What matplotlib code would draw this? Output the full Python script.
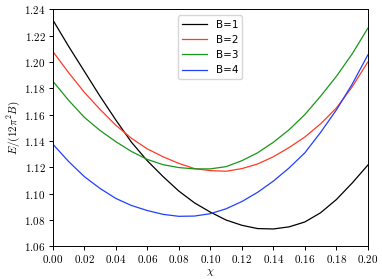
import matplotlib
matplotlib.use("Agg")
import matplotlib.pyplot as plt
from matplotlib.ticker import FuncFormatter, MultipleLocator
import numpy as np

plt.rcParams['mathtext.fontset'] = 'cm'

chi = np.round(np.arange(0, 0.2001, 0.01), 2)

# energies, one per B
e_b1 = [1.232, 1.212, 1.193, 1.174, 1.156, 1.139, 1.125, 1.113, 1.102, 1.093, 1.086,
        1.080, 1.076, 1.0735, 1.0732, 1.0748, 1.0785, 1.0855, 1.0955, 1.108, 1.1217]
e_b2 = [1.208, 1.192, 1.177, 1.164, 1.152, 1.142, 1.134, 1.128, 1.123, 1.119, 1.1175,
        1.117, 1.119, 1.1225, 1.128, 1.135, 1.143, 1.153, 1.165, 1.181, 1.200]
e_b3 = [1.1855, 1.171, 1.158, 1.148, 1.1395, 1.132, 1.126, 1.122, 1.1198, 1.1188, 1.1188,
        1.1205, 1.125, 1.131, 1.139, 1.1485, 1.160, 1.174, 1.189, 1.206, 1.2256]
e_b4 = [1.1377, 1.1245, 1.113, 1.104, 1.0964, 1.091, 1.0872, 1.0843, 1.0828, 1.0830, 1.0848,
        1.0885, 1.094, 1.101, 1.1095, 1.1195, 1.131, 1.1465, 1.1635, 1.183, 1.2053]

labels = ['B=1', 'B=2', 'B=3', 'B=4']
colors = ['black', '#ff3a28', '#1a961a', '#2040ff']

fig = plt.figure(figsize=(3.82, 2.79), dpi=100)
ax = fig.add_axes([0.138, 0.117, 0.825, 0.850])

for e, lab, col in zip([e_b1, e_b2, e_b3, e_b4], labels, colors):
    ax.plot(chi, e, color=col, lw=0.9, label=lab)

ax.set_xlim(0, 0.2)
ax.set_ylim(1.06, 1.24)
ax.xaxis.set_major_locator(MultipleLocator(0.02))
ax.yaxis.set_major_locator(MultipleLocator(0.02))
fmt = FuncFormatter(lambda v, p: r'$%.2f$' % v)
ax.xaxis.set_major_formatter(fmt)
ax.yaxis.set_major_formatter(fmt)
ax.tick_params(labelsize=8, length=3, width=0.7, pad=2)
for s in ax.spines.values():
    s.set_linewidth(0.7)

ax.set_xlabel(r'$\chi$', fontsize=8, labelpad=1)
ax.set_ylabel(r'$E/(12\pi^2 B)$', fontsize=8, labelpad=2)

ax.legend(loc='upper center', fontsize=7.5, handlelength=2.4, borderaxespad=0.6,
          labelspacing=0.5)

plt.savefig('out.png', dpi=100)
